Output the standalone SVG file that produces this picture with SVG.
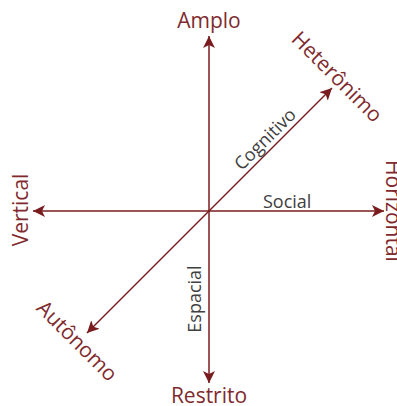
<svg xmlns="http://www.w3.org/2000/svg" width="397" height="406" viewBox="0 0 397 406">
<style>
.ax{stroke:#7a1c1f;stroke-width:1.5;fill:none}
.outer{font-family:"Open Sans","Noto Sans",sans-serif;font-size:21px;fill:#7f2a2e}
.inner{font-family:"Open Sans","Noto Sans",sans-serif;font-size:18px;fill:#404040}
</style>
<defs>
<marker id="ah" viewBox="0 0 12 12" refX="12" refY="6" markerWidth="12" markerHeight="12" markerUnits="userSpaceOnUse" orient="auto-start-reverse">
<path d="M0,0 L12,6 L0,12 L3,6 z" fill="#7a1c1f"/>
</marker>
</defs>
<rect width="397" height="406" fill="#ffffff"/>
<g id="connectors">
<line class="ax" x1="209" y1="383" x2="209" y2="36" marker-start="url(#ah)" marker-end="url(#ah)"/>
<line class="ax" x1="33" y1="211" x2="384" y2="211" marker-start="url(#ah)" marker-end="url(#ah)"/>
<line class="ax" x1="87" y1="333" x2="332" y2="88" marker-start="url(#ah)" marker-end="url(#ah)"/>
</g>
<g id="amplo"><text class="outer" x="209" y="28" text-anchor="middle">Amplo</text></g>
<g id="restrito"><text class="outer" x="209" y="403" text-anchor="middle">Restrito</text></g>
<g id="vertical"><text class="outer" transform="translate(28,210) rotate(-90)" text-anchor="middle">Vertical</text></g>
<g id="horizontal"><text class="outer" transform="translate(386,211) rotate(90)" text-anchor="middle">Horizontal</text></g>
<g id="heteronimo"><text class="outer" transform="translate(332,82) rotate(45)" text-anchor="middle">Heterônimo</text></g>
<g id="autonomo"><text class="outer" transform="translate(72,346) rotate(45)" text-anchor="middle">Autônomo</text></g>
<g id="social"><text class="inner" x="263" y="208">Social</text></g>
<g id="espacial"><text class="inner" transform="translate(201,299) rotate(-90)" text-anchor="middle">Espacial</text></g>
<g id="cognitivo"><text class="inner" transform="translate(269.5,143.5) rotate(-45)" text-anchor="middle">Cognitivo</text></g>
</svg>
